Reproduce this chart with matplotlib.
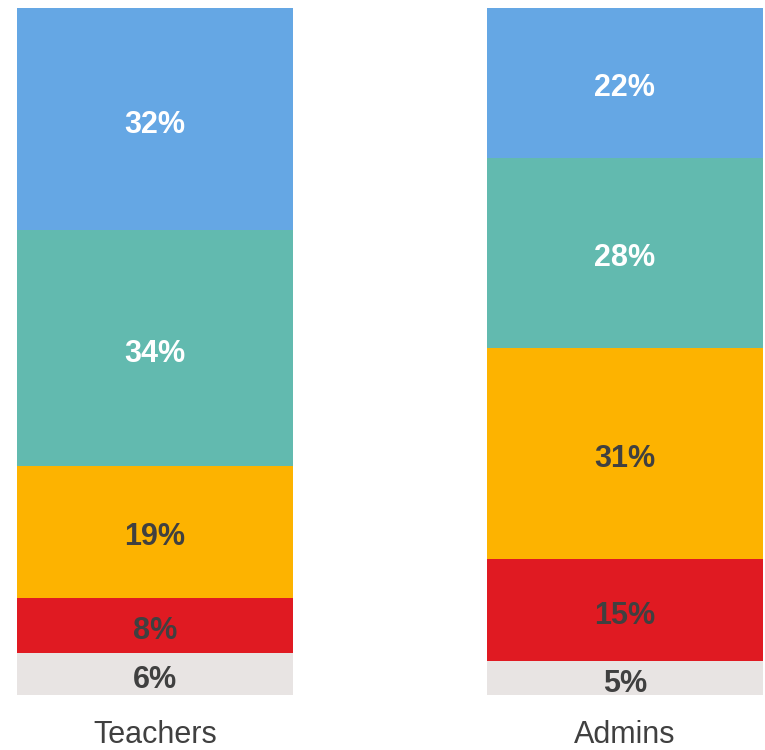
import numpy as np
import matplotlib.pyplot as plt

plt.rcParams['font.family'] = ['Liberation Sans', 'DejaVu Sans']

groups = ['Teachers', 'Admins']
# stacked bottom -> top
segments = ['grey', 'red', 'yellow', 'teal', 'blue']
teachers = [6, 8, 19, 34, 32]
admins = [5, 15, 31, 28, 22]
colors = ['#E8E4E3', '#E01A22', '#FDB300', '#62BAAF', '#65A7E4']
text_colors = ['#404040', '#404040', '#404040', 'white', 'white']

values = np.array([teachers, admins], dtype=float)
shares = values / values.sum(axis=1, keepdims=True) * 100

fig = plt.figure(figsize=(7.65, 7.5), dpi=100)
ax = fig.add_axes([17/765, 55/750, 746/765, 687/750])

x = np.arange(len(groups))
w = 0.588
bottom = np.zeros(len(groups))
for i in range(len(segments)):
    ax.bar(x, shares[:, i], w, bottom=bottom, color=colors[i], linewidth=0)
    for j in range(len(groups)):
        ax.text(x[j], bottom[j] + shares[j, i] / 2 - 0.3, f'{int(values[j, i])}%',
                ha='center', va='center_baseline', fontsize=22, fontweight='bold',
                color=text_colors[i])
    bottom += shares[:, i]

ax.set_xlim(-w/2, 1 + w/2)
ax.set_ylim(0, 100)
ax.set_xticks(x)
ax.set_xticklabels(groups, fontsize=22, color='#404040')
ax.tick_params(axis='x', length=0, pad=18)
ax.set_yticks([])
for s in ax.spines.values():
    s.set_visible(False)

fig.savefig('out.png', dpi=100)
